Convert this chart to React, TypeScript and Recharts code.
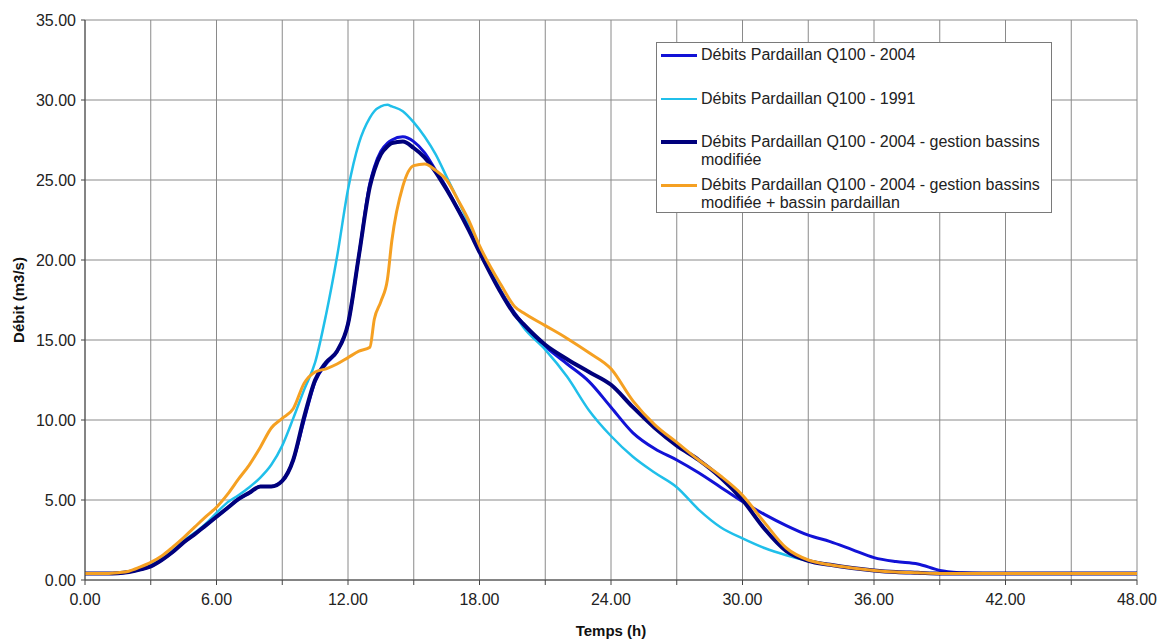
import React from 'react';
import { LineChart, Line, XAxis, YAxis, CartesianGrid, Legend, Label } from 'recharts';

// time axis (hours) shared by all series
const hours = [
  0, 1, 1.5, 2, 2.5, 3, 3.5, 4, 4.5, 5, 5.5, 6, 6.5, 7, 7.5, 8, 8.5, 9, 9.5, 10,
  10.5, 11, 11.5, 12, 12.5, 13, 13.2, 13.5, 13.8, 14, 14.5, 15, 15.5, 16, 16.5, 17, 17.5, 18,
  19, 19.6, 20, 21, 22, 23, 24, 25, 26, 27, 28, 29, 30, 31, 32, 33, 34, 35, 36, 37, 38, 39,
  40, 41, 42, 45, 48,
];

const q2004 = [
  0.4, 0.4, 0.42, 0.5, 0.65, 0.85, 1.25, 1.75, 2.35, 2.85, 3.4, 3.95, 4.5, 5.05, 5.45, 5.85, 5.85, 6.2, 7.5, 10.0,
  12.4, 13.5, 14.3, 16.0, 20.3, 24.8, 25.8, 26.8, 27.3, 27.5, 27.7, 27.4, 26.7, 25.6, 24.5, 23.2, 22.0, 20.6,
  18.0, 16.7, 16.0, 14.6, 13.5, 12.4, 10.8, 9.2, 8.2, 7.5, 6.7, 5.8, 4.9, 4.1, 3.4, 2.8, 2.4, 1.9, 1.4, 1.15, 1.0, 0.6,
  0.45, 0.4, 0.4, 0.4, 0.4,
];

const q1991 = [
  0.4, 0.4, 0.42, 0.5, 0.7, 0.95, 1.35, 1.85, 2.45, 2.95, 3.5, 4.2, 4.85, 5.3, 5.8, 6.4, 7.2, 8.4, 10.1, 11.9,
  13.6, 16.6, 20.2, 24.4, 27.3, 28.9, 29.3, 29.6, 29.7, 29.6, 29.3, 28.6, 27.7, 26.6, 25.2, 23.8, 22.3, 20.8,
  18.0, 16.6, 15.8, 14.4, 12.7, 10.6, 9.0, 7.7, 6.7, 5.8, 4.4, 3.3, 2.6, 2.0, 1.55, 1.2, 0.95, 0.75, 0.6, 0.5, 0.45, 0.4,
  0.4, 0.4, 0.4, 0.4, 0.4,
];

const qGestion = [
  0.4, 0.4, 0.42, 0.5, 0.65, 0.85, 1.25, 1.75, 2.35, 2.85, 3.4, 3.95, 4.5, 5.05, 5.45, 5.85, 5.85, 6.2, 7.5, 10.2,
  12.5, 13.6, 14.3, 16.0, 20.3, 24.6, 25.6, 26.6, 27.1, 27.3, 27.4, 27.0, 26.4, 25.5, 24.4, 23.2, 21.9, 20.5,
  17.9, 16.6, 16.0, 14.7, 13.8, 13.0, 12.2, 10.8, 9.5, 8.4, 7.5, 6.4, 5.0, 3.2, 1.8, 1.2, 0.95, 0.75, 0.6, 0.5, 0.45, 0.4,
  0.4, 0.4, 0.4, 0.4, 0.4,
];

const qBassin = [
  0.4, 0.4, 0.45, 0.55, 0.8, 1.1, 1.5, 2.05, 2.65, 3.3, 3.95, 4.55, 5.35, 6.3, 7.2, 8.3, 9.5, 10.1, 10.7, 12.3,
  13.0, 13.2, 13.5, 13.9, 14.3, 14.55, 16.3, 17.4, 18.8, 21.2, 24.6, 25.9, 26.0, 25.6, 25.0, 23.8, 22.5, 20.9,
  18.4, 17.1, 16.7, 15.9, 15.1, 14.2, 13.2, 11.2, 9.7, 8.6, 7.5, 6.5, 5.3, 3.6, 2.0, 1.25, 0.95, 0.75, 0.6, 0.5, 0.45, 0.4,
  0.4, 0.4, 0.4, 0.4, 0.4,
];

const xTicks = [0, 3, 6, 9, 12, 15, 18, 21, 24, 27, 30, 33, 36, 39, 42, 45, 48];
const yTicks = [0, 5, 10, 15, 20, 25, 30, 35];

const SERIES = [
  { key: 'q2004', name: 'Débits Pardaillan Q100 - 2004', color: '#1212d6', width: 3 },
  { key: 'q1991', name: 'Débits Pardaillan Q100 - 1991', color: '#20bfea', width: 2.5 },
  { key: 'qGestion', name: 'Débits Pardaillan Q100 - 2004 - gestion bassins modifiée', color: '#00007c', width: 4 },
  { key: 'qBassin', name: 'Débits Pardaillan Q100 - 2004 - gestion bassins modifiée + bassin pardaillan', color: '#f5a022', width: 3 },
];

const data = hours.map((h, i) => ({
  h,
  q2004: q2004[i],
  q1991: q1991[i],
  qGestion: qGestion[i],
  qBassin: qBassin[i],
}));

const FONT = '"Liberation Sans", Arial, sans-serif';

// legend rows: split labels the way the original wraps them
const legendLines: Record<string, string[]> = {
  q2004: ['Débits Pardaillan Q100 - 2004'],
  q1991: ['Débits Pardaillan Q100 - 1991'],
  qGestion: ['Débits Pardaillan Q100 - 2004 - gestion bassins', 'modifiée'],
  qBassin: ['Débits Pardaillan Q100 - 2004 - gestion bassins', 'modifiée + bassin pardaillan'],
};
const legendTops = [3, 47, 90, 133];

const LegendBox = () => (
  <div
    style={{
      position: 'relative',
      width: 396,
      height: 171,
      background: '#fff',
      border: '1px solid #7a7a7a',
      boxSizing: 'border-box',
      fontFamily: FONT,
      fontSize: 16,
      color: '#222',
    }}
  >
    {SERIES.map((s, i) => (
      <div key={s.key} style={{ position: 'absolute', left: 4, top: legendTops[i] }}>
        <div
          style={{
            position: 'absolute',
            left: 0,
            top: 9 - s.width / 2,
            width: 36,
            height: s.width,
            background: s.color,
          }}
        />
        <div style={{ marginLeft: 40, lineHeight: '18px', whiteSpace: 'nowrap' }}>
          {legendLines[s.key].map((t) => (
            <div key={t}>{t}</div>
          ))}
        </div>
      </div>
    ))}
  </div>
);

export default function App() {
  return (
    <div style={{ position: 'absolute', left: 0, top: 0, background: '#fff' }}>
      <LineChart width={1160} height={639} data={data} margin={{ top: 20, right: 23, bottom: 0, left: 0 }}>
        <CartesianGrid stroke="#8a8a8a" strokeWidth={1} />
        <XAxis
          dataKey="h"
          type="number"
          domain={[0, 48]}
          ticks={xTicks}
          interval={0}
          height={59}
          stroke="#444"
          tickSize={5}
          tickMargin={9}
          tick={{ fill: '#222', fontSize: 16, fontFamily: FONT }}
          tickFormatter={(v: number) => (v % 6 === 0 ? v.toFixed(2) : '')}
        >
          <Label
            value="Temps (h)"
            position="insideBottom"
            offset={3}
            style={{ fontFamily: FONT, fontSize: 15, fontWeight: 700, fill: '#111' }}
          />
        </XAxis>
        <YAxis
          type="number"
          domain={[0, 35]}
          ticks={yTicks}
          interval={0}
          width={85}
          stroke="#444"
          tickSize={4}
          tickMargin={5}
          tick={{ fill: '#222', fontSize: 16, fontFamily: FONT }}
          tickFormatter={(v: number) => v.toFixed(2)}
        >
          <Label
            value="Débit (m3/s)"
            angle={-90}
            position="insideLeft"
            offset={19}
            style={{ fontFamily: FONT, fontSize: 15, fontWeight: 700, fill: '#111', textAnchor: 'middle' }}
          />
        </YAxis>
        <Legend
          layout="vertical"
          align="center"
          verticalAlign="middle"
          wrapperStyle={{ left: 656, top: 42, width: 396, height: 171 }}
          content={() => <LegendBox />}
        />
        {SERIES.map((s) => (
          <Line
            key={s.key}
            type="monotone"
            dataKey={s.key}
            name={s.name}
            stroke={s.color}
            strokeWidth={s.width}
            dot={false}
            activeDot={false}
            isAnimationActive={false}
          />
        ))}
      </LineChart>
    </div>
  );
}
